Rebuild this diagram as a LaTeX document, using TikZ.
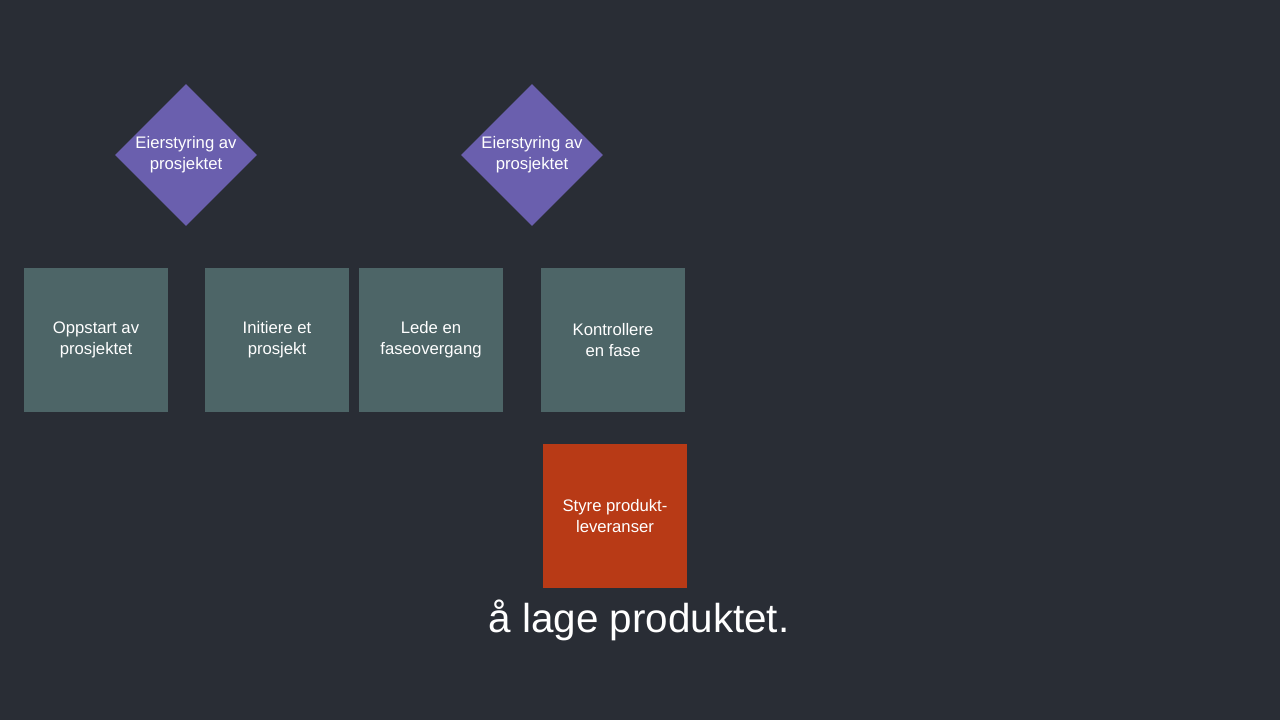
\documentclass[tikz,border=0pt]{standalone}
\usepackage{fontspec}
\setmainfont{Liberation Sans}
\usetikzlibrary{shapes.geometric}
\definecolor{bg}{HTML}{292D35}
\definecolor{eier}{HTML}{6A5FAE}
\definecolor{proc}{HTML}{4D6567}
\definecolor{lever}{HTML}{B83A16}
\tikzset{
  box/.style={draw=none, minimum size=2.88cm, inner sep=0pt, align=center,
    text=white, font=\fontsize{9.5}{12}\selectfont},
  styring/.style={diamond, fill=eier, draw=none, minimum width=2.84cm,
    minimum height=2.84cm, inner sep=0pt, align=center, text=white,
    font=\fontsize{9.5}{12}\selectfont}
}
\begin{document}
\begin{tikzpicture}[x=0.02cm,y=-0.02cm]
  \fill[bg] (0,0) rectangle (1280,720);
  \useasboundingbox (0,0) rectangle (1280,720);

  % styring
  \node[styring] (eier1) at (186,155) {Eierstyring av\\prosjektet};
  \node[styring] (eier2) at (532,155) {Eierstyring av\\prosjektet};

  % prosesser
  \node[box, fill=proc] (oppstart) at (96,340) {Oppstart av\\prosjektet};
  \node[box, fill=proc] (initiere) at (277,340) {Initiere et\\prosjekt};
  \node[box, fill=proc] (lede) at (431,340) {Lede en\\faseovergang};
  \node[box, fill=proc] (kontroll) at (613,340) {Kontrollere\\en fase};
  \node[box, fill=lever] (styre) at (615,516) {Styre produkt-\\leveranser};

  \node[text=white, font=\fontsize{23}{28}\selectfont] (tekst) at (639,620) {å lage produktet.};
\end{tikzpicture}
\end{document}
